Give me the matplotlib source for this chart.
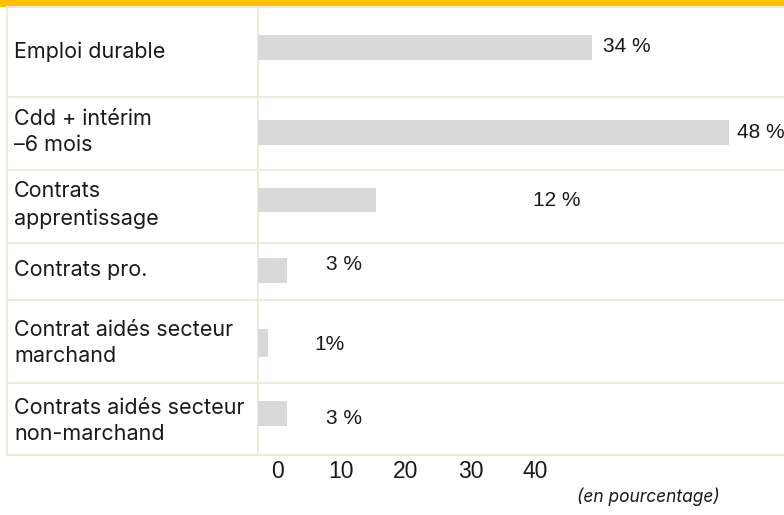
import matplotlib
matplotlib.use("Agg")
import matplotlib.pyplot as plt

# données
categories = ["Emploi durable", "Cdd + intérim\n–6 mois", "Contrats\napprentissage",
              "Contrats pro.", "Contrat aidés secteur\nmarchand",
              "Contrats aidés secteur\nnon-marchand"]
values = [34, 48, 12, 3, 1, 3]
value_labels = ["34 %", "48 %", "12 %", "3 %", "1%", "3 %"]
ticks = [0, 10, 20, 30, 40]
tick_labels = ["0", "10", "20", "30", "40"]

# mise en page (pixels)
W, H = 784, 515
row_edges = [7, 97, 170, 243, 300, 383, 455]
bar_y = [47, 132, 200, 270, 343, 413]
bar_h = [25, 25, 24, 25, 28, 25]
label_x = [35.2, 48.8, 28.0, 6.9, 5.7, 6.9]
label_dy = [0, 0, 0, -5, 2, 6]
text_y = [52, 132, 205, 270, 343, 421]

line_col = "#F0E8DA"
bar_col = "#D9D9D9"
txt_col = "#1a1a1a"

fig = plt.figure(figsize=(W / 100, H / 100), dpi=100)

# fond : bandeau, lignes, libellés
bg = fig.add_axes([0, 0, 1, 1])
bg.set_xlim(0, W)
bg.set_ylim(H, 0)
bg.axis("off")
bg.axhspan(0, 6.5, color="#FFC000", lw=0)
for y in row_edges:
    bg.plot([7, W], [y, y], color=line_col, lw=1.5)
bg.plot([7, 7], [row_edges[0], row_edges[-1]], color=line_col, lw=1.5)
bg.plot([258, 258], [row_edges[0], row_edges[-1]], color=line_col, lw=1.5)
for cat, y in zip(categories, text_y):
    bg.text(14, y, cat, ha="left", va="center", fontsize=15.5, family="Inter",
            color=txt_col, linespacing=1.4)

# barres
x0 = 258 / W
ax = fig.add_axes([x0, 0, 1 - x0, 1])
ax.set_xlim(0, (W - 258) / (471 / 48))
ax.set_ylim(H, 0)
ax.axis("off")
ax.barh(bar_y, values, height=bar_h, color=bar_col, lw=0)
for lx, y, dy, lab in zip(label_x, bar_y, label_dy, value_labels):
    ax.text(lx, y + dy, lab, ha="left", va="center", fontsize=15,
            family="Liberation Sans", color=txt_col)

# axe des graduations
tx0, tx1 = 277 / W, 535 / W
tax = fig.add_axes([tx0, 1 - 457 / H, tx1 - tx0, 0.001])
tax.set_xlim(0, 40)
tax.set_yticks([])
for s in tax.spines.values():
    s.set_visible(False)
tax.set_xticks(ticks)
tax.set_xticklabels(tick_labels, fontsize=16.5, family="Liberation Sans",
                    color=txt_col)
tax.tick_params(axis="x", length=0, pad=2)

bg.text(720, 497, "(en pourcentage)", ha="right", va="center", fontsize=12.5,
        style="italic", family="Inter", color=txt_col)

fig.savefig("out.png", dpi=100)
